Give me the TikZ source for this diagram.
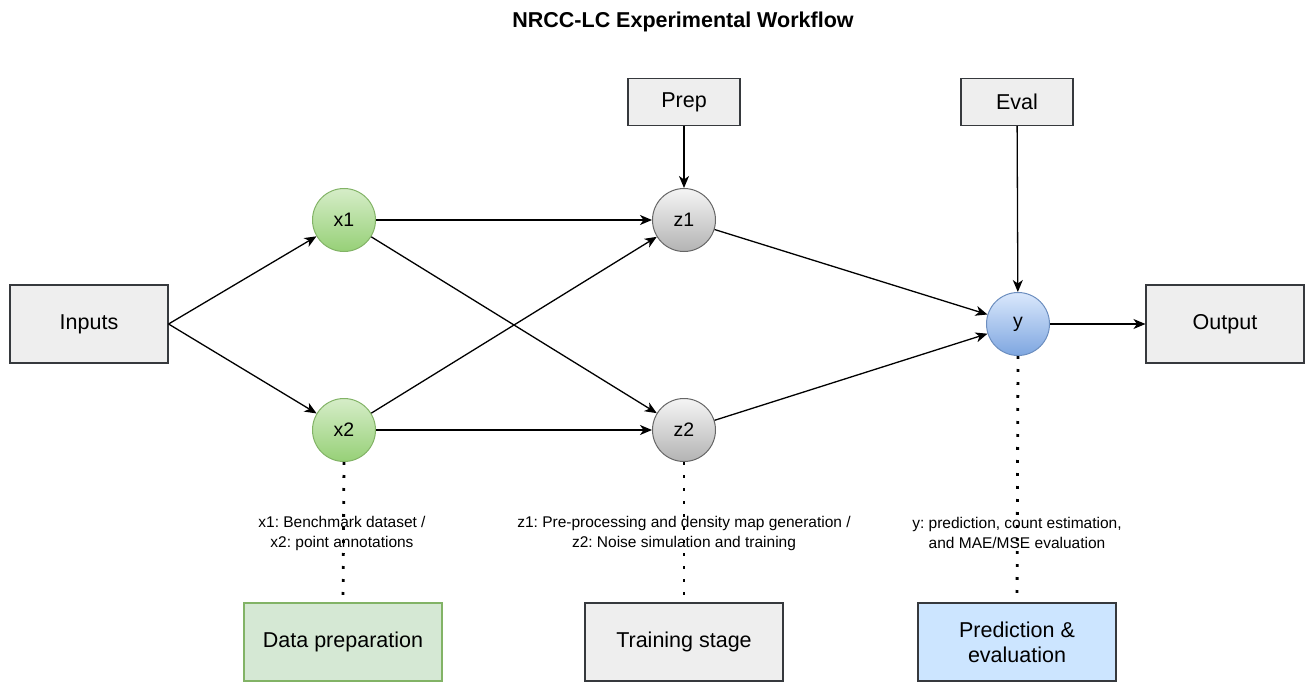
\documentclass[tikz,border=0pt]{standalone}
\usepackage{fontspec}
\setmainfont{Liberation Sans}
\usetikzlibrary{arrows.meta}
\frenchspacing
\definecolor{boxfill}{HTML}{EEEEEE}
\definecolor{boxline}{HTML}{36393D}
\definecolor{gfill}{HTML}{D5E8D4}
\definecolor{gline}{HTML}{82B366}
\definecolor{gtop}{HTML}{D5EDC8}
\definecolor{gbot}{HTML}{97D077}
\definecolor{stop}{HTML}{F5F5F5}
\definecolor{sbot}{HTML}{B3B3B3}
\definecolor{sline}{HTML}{666666}
\definecolor{btop}{HTML}{DAE8FC}
\definecolor{bbot}{HTML}{7EA6E0}
\definecolor{bline}{HTML}{6C8EBF}
\definecolor{pfill}{HTML}{CCE5FF}
\tikzset{
  box/.style={draw=boxline, fill=boxfill, line width=1.1pt, minimum width=158pt, minimum height=78pt,
    inner sep=0pt, align=center, font=\fontsize{21.5}{25}\selectfont},
  smallbox/.style={box, minimum width=112pt, minimum height=47pt},
  stagebox/.style={box, minimum width=198pt, minimum height=78pt},
  circ/.style={circle, line width=1pt, minimum size=63pt, inner sep=0pt, font=\fontsize{19.5}{22}\selectfont},
  gcirc/.style={circ, draw=gline, top color=gtop, bottom color=gbot},
  scirc/.style={circ, draw=sline, top color=stop, bottom color=sbot},
  bcirc/.style={circ, draw=bline, top color=btop, bottom color=bbot},
  arr/.style={line width=1.3pt, -{Stealth[length=12pt, width=10pt, inset=3.5pt]}},
  dotline/.style={line width=2.8pt, dash pattern=on 2.8pt off 10.2pt},
  note/.style={align=center, inner sep=0pt, font=\fontsize{15.5}{20}\selectfont}
}
\begin{document}
\begin{tikzpicture}[x=1pt, y=-1pt]
\useasboundingbox (0,0) rectangle (1306,682);
\node[font=\bfseries\fontsize{21.5}{25}\selectfont] (title) at (683,22) {NRCC-LC Experimental Workflow};

\node[box] (in) at (89,324) {Inputs};
\node[box] (out) at (1225,324) {Output};
\node[smallbox] (prep) at (684,102) {Prep};
\node[smallbox] (eval) at (1017,102) {Eval};

\node[gcirc] (x1) at (344,220) {x1};
\node[gcirc] (x2) at (344,430) {x2};
\node[scirc] (z1) at (684,220) {z1};
\node[scirc] (z2) at (684,430) {z2};
\node[bcirc] (y) at (1018,324) {y};

\node[stagebox, draw=gline, fill=gfill] (dp) at (343,642) {Data preparation};
\node[stagebox] (ts) at (684,642) {Training stage};
\node[stagebox, fill=pfill] (pe) at (1017,642) {Prediction \&\\evaluation};

\draw[dotline] (x2.south) -- (dp.north);
\draw[dotline] (z2.south) -- (ts.north);
\draw[dotline] (y.south) -- (pe.north);

\node[note] (n1) at (342,533) {x1: Benchmark dataset /\\x2: point annotations};
\node[note] (n2) at (684,533) {z1: Pre-processing and density map generation /\\z2: Noise simulation and training};
\node[note] (n3) at (1017,533) {y: prediction, count estimation,\\and MAE/MSE evaluation};

\draw[arr] (in.east) -- (x1);
\draw[arr] (in.east) -- (x2);
\draw[arr] (x1) -- (z1);
\draw[arr] (x1) -- (z2);
\draw[arr] (x2) -- (z1);
\draw[arr] (x2) -- (z2);
\draw[arr] (z1) -- (y);
\draw[arr] (z2) -- (y);
\draw[arr] (prep) -- (z1);
\draw[arr] (eval) -- (y);
\draw[arr] (y) -- (out);
\end{tikzpicture}
\end{document}
